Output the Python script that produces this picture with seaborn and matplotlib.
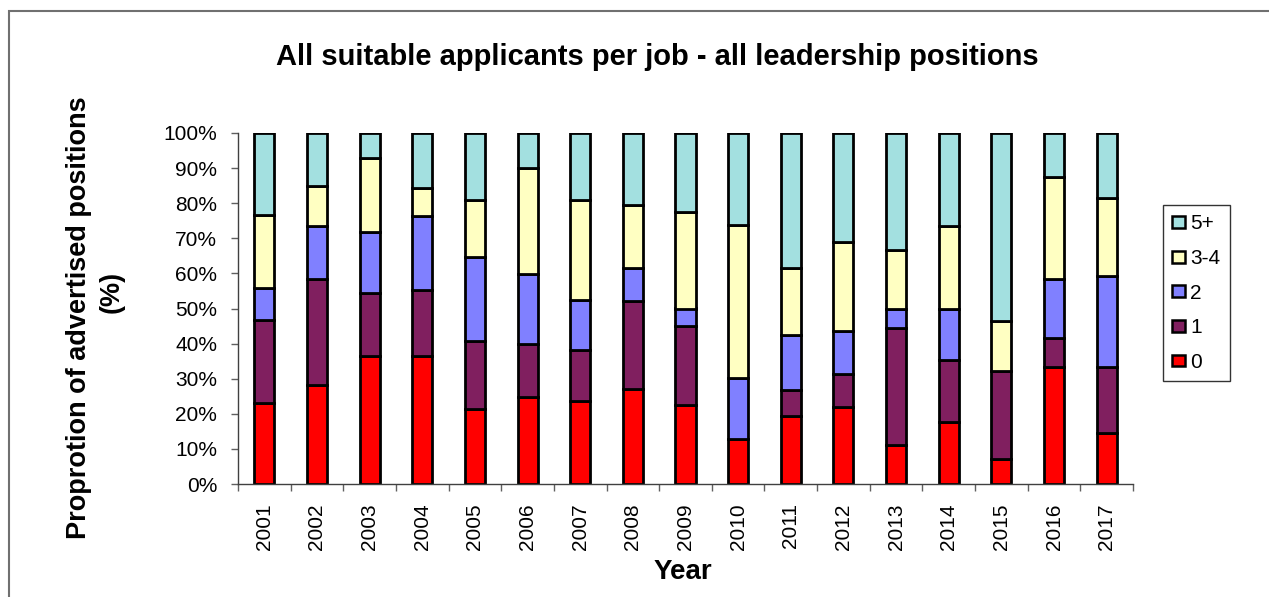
import numpy as np
import pandas as pd
import seaborn as sns
import matplotlib
matplotlib.use("Agg")
import matplotlib.pyplot as plt
from matplotlib.patches import Patch, Rectangle

# values (% of advertised positions)
years = [str(y) for y in range(2001, 2018)]
zero = [23.1, 28.1, 36.6, 36.6, 21.5, 24.8, 23.7, 27.2, 22.4, 12.9, 19.3, 21.9, 11.2, 17.6, 7.1, 33.2, 14.6]
one = [23.5, 30.4, 17.8, 18.6, 19.1, 15.1, 14.5, 25.0, 22.6, 0.0, 7.6, 9.4, 33.2, 17.7, 25.0, 8.3, 18.7]
two = [9.2, 15.0, 17.4, 21.1, 24.2, 20.0, 14.1, 9.3, 5.0, 17.4, 15.5, 12.4, 5.5, 14.5, 0.0, 16.9, 26.1]
three_four = [20.8, 11.4, 21.1, 8.0, 16.2, 30.1, 28.7, 18.0, 27.6, 43.6, 19.1, 25.2, 16.9, 23.7, 14.2, 29.1, 22.1]
five_plus = [23.4, 15.1, 7.1, 15.7, 19.0, 10.0, 19.0, 20.5, 22.4, 26.1, 38.5, 31.1, 33.2, 26.5, 53.7, 12.5, 18.5]

labels = ["0", "1", "2", "3-4", "5+"]
colors = ["#FF0000", "#801F5F", "#8080FF", "#FFFFC2", "#A3E0E0"]

df = pd.DataFrame({"Year": years, "0": zero, "1": one, "2": two,
                   "3-4": three_four, "5+": five_plus})

sns.set_theme(style="white")
plt.rcParams['font.family'] = ['Liberation Sans', 'DejaVu Sans']
plt.rcParams['text.color'] = 'black'
plt.rcParams['xtick.labelcolor'] = 'black'
plt.rcParams['ytick.labelcolor'] = 'black'

fig = plt.figure(figsize=(12.69, 5.97), dpi=100)
ax = fig.add_axes([238 / 1269, 1 - 484 / 597, (1133 - 238) / 1269, (484 - 133) / 597])

# stacked bars, one layer per applicant group
bottom = np.zeros(len(years))
for lab, col in zip(labels, colors):
    sns.barplot(data=df, x="Year", y=lab, color=col, saturation=1, width=0.38,
                bottom=bottom, edgecolor="black", linewidth=2.0, ax=ax)
    bottom = bottom + df[lab].values

ax.set_xlim(-0.5, len(years) - 0.5)
ax.set_ylim(0, 100)
ax.set_yticks(np.arange(0, 101, 10))
ax.set_yticklabels([f"{v}%" for v in range(0, 101, 10)], fontsize=15)
ax.tick_params(axis="y", length=5, width=1, color="#606060", pad=10, left=True)
ax.set_xticks(range(len(years)))
ax.set_xticklabels(years, rotation=90, fontsize=15)
ax.set_xticks(np.arange(-0.5, len(years), 1), minor=True)
ax.tick_params(axis="x", which="major", length=0, pad=14)
ax.tick_params(axis="x", which="minor", length=5, width=1, color="#606060", bottom=True)
ax.set_xlabel("")
ax.set_ylabel("")
for s in ["top", "right"]:
    ax.spines[s].set_visible(False)
for s in ["left", "bottom"]:
    ax.spines[s].set_color("#404040")
    ax.spines[s].set_linewidth(1)

fig.text(657 / 1269, 1 - 57 / 597, "All suitable applicants per job - all leadership positions",
         ha="center", va="center", fontsize=21, fontweight="bold")
fig.text(683 / 1269, 1 - 572 / 597, "Year", ha="center", va="center",
         fontsize=20, fontweight="bold")
fig.text(79 / 1269, 1 - 318 / 597, "Proprotion of advertised positions", rotation=90,
         ha="center", va="center", fontsize=19.5, fontweight="bold")
fig.text(112 / 1269, 1 - 292 / 597, "(%)", rotation=90,
         ha="center", va="center", fontsize=19.5, fontweight="bold")

handles = [Patch(facecolor=c, edgecolor="black", linewidth=1.8, label=l)
           for l, c in zip(labels, colors)][::-1]
leg = fig.legend(handles=handles, loc="upper left",
                 bbox_to_anchor=(1163 / 1269, 1 - 205 / 597), fontsize=15,
                 frameon=True, fancybox=False, borderaxespad=0, borderpad=0.45,
                 handlelength=0.6, handleheight=0.5, handletextpad=0.25,
                 labelspacing=0.75)
leg.get_frame().set_edgecolor("black")
leg.get_frame().set_linewidth(1)

# outer chart border
fig.patches.append(Rectangle((9 / 1269, -0.1), 1.2, 1.1 - 11 / 597, transform=fig.transFigure,
                             fill=False, edgecolor="#707070", linewidth=1.5))

fig.savefig("out.png", dpi=100)
